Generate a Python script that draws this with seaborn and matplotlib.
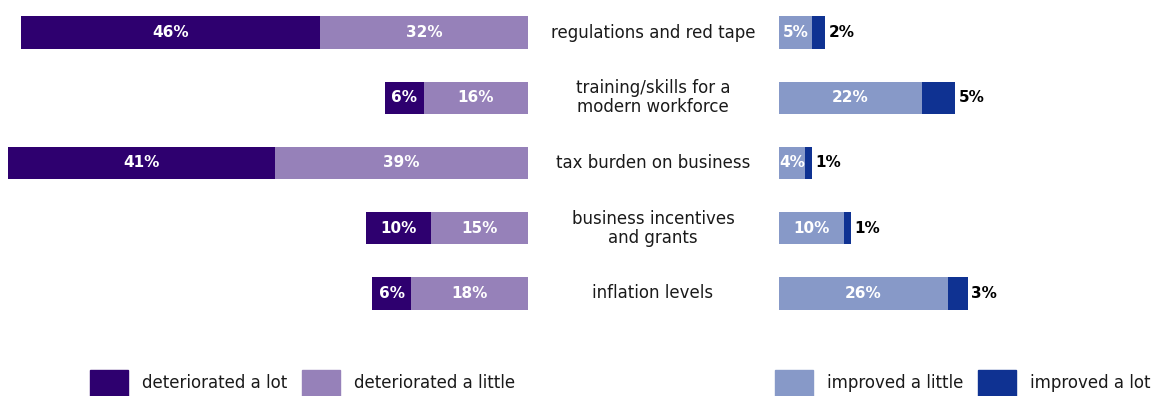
import matplotlib
matplotlib.use("Agg")
import matplotlib.pyplot as plt
import matplotlib.patches as mpatches
import matplotlib.transforms as mtransforms
import seaborn as sns
import pandas as pd

# Survey data: share of businesses reporting change in each factor (%)
categories = [
    "regulations and red tape",
    "training/skills for a\nmodern workforce",
    "tax burden on business",
    "business incentives\nand grants",
    "inflation levels",
]
deteriorated_lot = [46, 6, 41, 10, 6]
deteriorated_little = [32, 16, 39, 15, 18]
improved_little = [5, 22, 4, 10, 26]
improved_lot = [2, 5, 1, 1, 3]

series_names = ["deteriorated a lot", "deteriorated a little",
                "improved a little", "improved a lot"]

C_DET_LOT = "#2E006F"
C_DET_LITTLE = "#9681B9"
C_IMP_LITTLE = "#8799C8"
C_IMP_LOT = "#0F3292"

sns.set_theme(style="white")
plt.rcParams["font.family"] = ["DejaVu Sans"]

W, H = 1156, 396
fig = plt.figure(figsize=(W / 100, H / 100), dpi=100)

PX_PER_PCT = 6.5
left_zero = 528
right_zero = 779
plot_top = 0
plot_h = 326

ax_l = fig.add_axes([0, (H - plot_top - plot_h) / H, left_zero / W, plot_h / H])
ax_r = fig.add_axes([right_zero / W, (H - plot_top - plot_h) / H,
                     (W - right_zero) / W, plot_h / H])

df = pd.DataFrame({
    "category": categories,
    "det_lot": deteriorated_lot,
    "det_little": deteriorated_little,
    "imp_little": improved_little,
    "imp_lot": improved_lot,
})
df["det_total"] = df["det_lot"] + df["det_little"]
df["imp_total"] = df["imp_lot"] + df["imp_little"]

# Left side: stacked outward from the centre (little nearest, lot beyond)
sns.barplot(data=df, x="det_total", y="category", orient="h", color=C_DET_LOT,
            saturation=1, width=0.5, ax=ax_l, linewidth=0)
sns.barplot(data=df, x="det_little", y="category", orient="h", color=C_DET_LITTLE,
            saturation=1, width=0.5, ax=ax_l, linewidth=0)

# Right side: improved a little nearest the centre, improved a lot beyond
sns.barplot(data=df, x="imp_total", y="category", orient="h", color=C_IMP_LOT,
            saturation=1, width=0.5, ax=ax_r, linewidth=0)
sns.barplot(data=df, x="imp_little", y="category", orient="h", color=C_IMP_LITTLE,
            saturation=1, width=0.5, ax=ax_r, linewidth=0)

ax_l.set_xlim(left_zero / PX_PER_PCT, 0)
ax_r.set_xlim(0, (W - right_zero) / PX_PER_PCT)
for ax in (ax_l, ax_r):
    ax.set_ylim(len(categories) - 0.5, -0.5)
    ax.set_xlabel("")
    ax.set_ylabel("")
    ax.set_xticks([])
    ax.set_yticks([])
    for s in ax.spines.values():
        s.set_visible(False)
    ax.patch.set_alpha(0)

val_fs = 11
for i, row in df.iterrows():
    ax_l.text(row["det_little"] + row["det_lot"] / 2, i, f"{row['det_lot']}%",
              ha="center", va="center", color="white", fontsize=val_fs,
              fontweight="bold")
    ax_l.text(row["det_little"] / 2, i, f"{row['det_little']}%",
              ha="center", va="center", color="white", fontsize=val_fs,
              fontweight="bold")
    ax_r.text(row["imp_little"] / 2, i, f"{row['imp_little']}%",
              ha="center", va="center", color="white", fontsize=val_fs,
              fontweight="bold")
    ax_r.text(row["imp_total"] + 0.6, i, f"{row['imp_lot']}%",
              ha="left", va="center", color="black", fontsize=val_fs,
              fontweight="bold")

# Category names in the central gap
trans = mtransforms.blended_transform_factory(fig.transFigure, ax_r.transData)
for i, cat in enumerate(categories):
    fig.text(653 / W, i, cat, transform=trans, ha="center", va="center",
             fontsize=12, color="#1a1a1a", linespacing=1.1)

# Legends
leg_kw = dict(frameon=False, fontsize=12, handlelength=2.3, handleheight=2.0,
              handletextpad=0.8, columnspacing=0.9, borderpad=0,
              borderaxespad=0, ncol=2, loc="lower left")
h_det = [mpatches.Patch(color=C_DET_LOT, label=series_names[0]),
         mpatches.Patch(color=C_DET_LITTLE, label=series_names[1])]
h_imp = [mpatches.Patch(color=C_IMP_LITTLE, label=series_names[2]),
         mpatches.Patch(color=C_IMP_LOT, label=series_names[3])]
leg1 = fig.legend(handles=h_det, bbox_to_anchor=(90 / W, 0), **leg_kw)
leg2 = fig.legend(handles=h_imp, bbox_to_anchor=(775 / W, 0), **leg_kw)
for leg in (leg1, leg2):
    for t in leg.get_texts():
        t.set_color("#1a1a1a")

fig.savefig("out.png", dpi=100)
